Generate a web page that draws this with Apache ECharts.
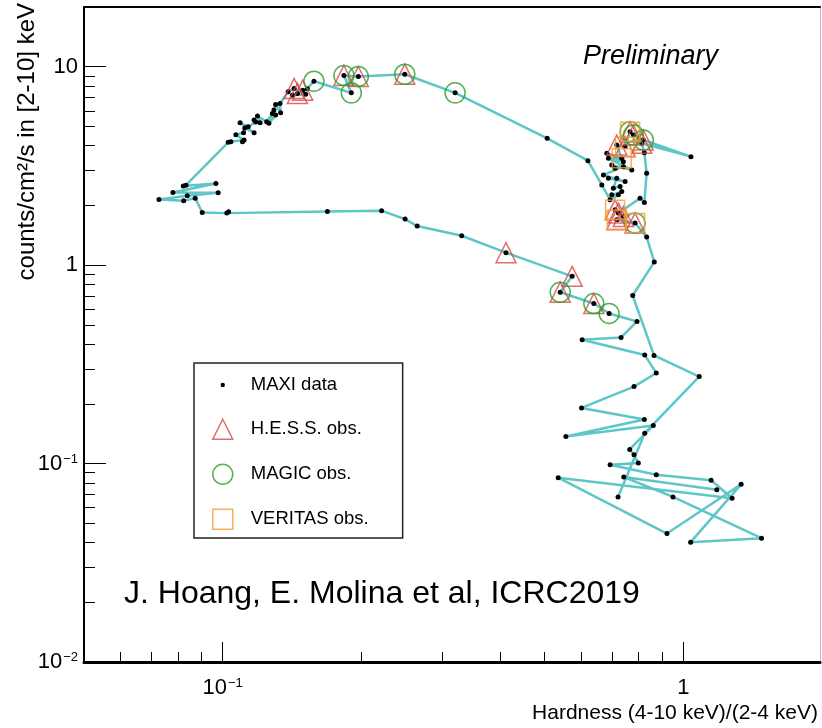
<!DOCTYPE html>
<html>
<head>
<meta charset="utf-8">
<title>MAXI hardness-intensity diagram</title>
<script src="https://cdn.jsdelivr.net/npm/echarts@6/dist/echarts.min.js"></script>
<style>
  html, body { margin: 0; padding: 0; background: #fff; }
  #chart { width: 822px; height: 728px; }
</style>
</head>
<body>
<div id="chart"></div>
<script>
// MAXI light curve in the hardness-intensity plane, in time order
const maxiHardness = [
  0.7216, 0.8245, 1.0825, 0.8636, 0.7765, 0.8648, 0.8325, 0.7856, 0.7170, 0.7411,
  0.7109, 0.7228, 0.8053, 0.8229, 0.8325, 0.8229, 0.8122, 1.0387, 0.8187, 0.7792,
  0.7663, 0.7474, 0.7170, 0.7351, 0.6822, 0.7411, 0.6877, 0.7729, 0.6993, 0.7109,
  0.7411, 0.6707, 0.7474, 0.6877, 0.7170, 0.7048, 0.7290, 0.7351, 0.6993, 0.7228,
  0.6934, 0.6653, 0.6206, 0.5064, 0.3196, 0.2485, 0.1970, 0.1833, 0.1902, 0.1578,
  0.1527, 0.1453, 0.1492, 0.1417, 0.1514, 0.1429, 0.1387, 0.1332, 0.1336, 0.1303,
  0.1292, 0.1303, 0.1260, 0.1282, 0.1246, 0.1190, 0.1206, 0.1170, 0.1180, 0.1136,
  0.1091, 0.1170, 0.1117, 0.1110, 0.1068, 0.1113, 0.1104, 0.1042, 0.1028, 0.08324,
  0.08212, 0.09667, 0.07799, 0.09777, 0.08378, 0.07274, 0.08229, 0.08718, 0.09028, 0.1021,
  0.1030, 0.1688, 0.2213, 0.2489, 0.2644, 0.3303, 0.4121, 0.5737, 0.5404, 0.6393,
  0.6901, 0.7933, 0.7325, 0.6031, 0.8245, 0.8735, 0.7816, 0.6011, 0.8229, 0.5559,
  0.8605, 0.7648, 0.7816, 0.7985, 0.6934, 0.8735, 1.149, 1.276, 0.5350, 0.9214,
  1.335, 1.037, 1.478, 0.9495, 0.7426, 1.182
];
const maxiRate = [
  0.0679, 0.1423, 0.2743, 0.3509, 0.7028, 1.038, 1.386, 1.630, 1.693, 1.759,
  1.901, 1.829, 2.176, 2.068, 2.906, 3.688, 4.113, 3.522, 4.272, 4.527,
  4.704, 3.954, 4.032, 3.457, 3.663, 3.324, 3.457, 3.019, 3.199, 3.079,
  3.137, 2.850, 2.637, 2.743, 2.743, 2.443, 2.489, 2.349, 2.261, 2.261,
  2.134, 2.538, 3.363, 4.357, 7.385, 9.169, 8.929, 9.032, 7.385, 8.456,
  7.753, 7.334, 7.619, 7.192, 7.275, 7.772, 7.472, 6.533, 5.860, 6.457,
  6.046, 5.705, 5.183, 5.820, 5.280, 5.639, 5.219, 5.385, 5.261, 4.984,
  5.219, 4.650, 4.909, 4.650, 4.544, 4.272, 4.189, 4.189, 4.160, 2.529,
  2.508, 2.577, 2.322, 2.314, 2.235, 2.141, 2.109, 2.176, 1.842, 1.829,
  1.857, 1.864, 1.879, 1.707, 1.574, 1.407, 1.156, 0.8784, 0.7302, 0.6406,
  0.5706, 0.5201, 0.4322, 0.4208, 0.3522, 0.2860, 0.2443, 0.1907, 0.1668, 0.1370,
  0.1556, 0.1179, 0.1107, 0.1006, 0.09863, 0.08785, 0.08234, 0.06686, 0.08485, 0.04438,
  0.07861, 0.04018, 0.04209, 0.06788, 0.08555, 0.07384
];

// Nights with IACT observations
const hessHardness = [0.1453, 0.1429, 0.1492, 0.1833, 0.1970, 0.2485, 0.4121, 0.5737, 0.5404, 0.6393,
  0.7663, 0.7474, 0.7170, 0.8122, 0.8187, 0.7792, 0.7109, 0.7228, 0.7411, 0.7170, 0.7856];
const hessRate = [7.334, 7.772, 7.619, 9.032, 8.929, 9.169, 1.156, 0.8784, 0.7302, 0.6406,
  4.704, 3.954, 4.032, 4.113, 4.272, 4.527, 1.901, 1.829, 1.759, 1.693, 1.630];

const magicHardness = [0.1578, 0.1833, 0.1970, 0.1902, 0.2485, 0.3196, 0.5404, 0.6393, 0.6901,
  0.7856, 0.7663, 0.7792, 0.8187];
const magicRate = [8.456, 9.032, 8.929, 7.385, 9.169, 7.385, 0.7302, 0.6406, 0.5706,
  1.630, 4.704, 4.527, 4.272];

const veritasHardness = [0.7663, 0.7474, 0.7351, 0.7109, 0.7170, 0.7856];
const veritasRate = [4.704, 3.954, 3.457, 1.901, 1.693, 1.630];

// Axis ticks and their labels
const xMajorTicks = [0.1, 1];
const xTickLabels = ['{b|10}{sup|−1}', '{b|1}'];
const xMinorTicks = [0.06, 0.07, 0.08, 0.09, 0.2, 0.3, 0.4, 0.5, 0.6, 0.7, 0.8, 0.9];
const yMajorTicks = [0.01, 0.1, 1, 10];
const yTickLabels = ['{b|10}{sup|−2}', '{b|10}{sup|−1}', '{b|1}', '{b|10}'];
const yMinorTicks = [0.02, 0.03, 0.04, 0.05, 0.06, 0.07, 0.08, 0.09,
  0.2, 0.3, 0.4, 0.5, 0.6, 0.7, 0.8, 0.9, 2, 3, 4, 5, 6, 7, 8, 9];

const FONT = '"Liberation Sans", Arial, sans-serif';
const LINE_COLOR = '#5ec6c6';
const HESS_COLOR = '#d84848';
const MAGIC_COLOR = '#2c9c2c';
const VERITAS_COLOR = '#f59a35';

function pairs(xs, ys) {
  return xs.map((x, i) => [x, ys[i]]);
}

function labelFor(ticks, labels) {
  return function (value) {
    for (let i = 0; i < ticks.length; i++) {
      if (Math.abs(Math.log10(ticks[i]) - Math.log10(value)) < 1e-6) return labels[i];
    }
    return '';
  };
}

const tickRich = {
  b: { fontSize: 22, lineHeight: 22, fontFamily: FONT, color: '#000' },
  sup: { fontSize: 13, lineHeight: 13, verticalAlign: 'top', fontFamily: FONT, color: '#000', padding: [0, 0, 0, 1] }
};

const X_MIN = 0.05, X_MAX = 1.98, Y_MIN = 0.01, Y_MAX = 20;

const option = {
  animation: false,
  backgroundColor: '#fff',
  textStyle: { fontFamily: FONT },
  grid: { left: 84, right: 2, top: 7, bottom: 66, containLabel: false, outerBoundsMode: 'none' },
  xAxis: [
    {
      type: 'log', logBase: 10, min: X_MIN, max: X_MAX, position: 'bottom',
      axisLine: { show: true, onZero: false, lineStyle: { color: '#000', width: 3 } },
      axisTick: { show: true, inside: true, length: 20, customValues: xMajorTicks, lineStyle: { color: '#000', width: 1 } },
      axisLabel: { show: true, customValues: xMajorTicks, formatter: labelFor(xMajorTicks, xTickLabels), margin: 15, rich: tickRich },
      splitLine: { show: false }, minorTick: { show: false }
    },
    {
      type: 'log', logBase: 10, min: X_MIN, max: X_MAX, position: 'bottom',
      axisLine: { show: false },
      axisTick: { show: true, inside: true, length: 10, customValues: xMinorTicks, lineStyle: { color: '#000', width: 1 } },
      axisLabel: { show: false }, splitLine: { show: false }
    },
    {
      type: 'log', logBase: 10, min: X_MIN, max: X_MAX, position: 'top',
      axisLine: { show: true, onZero: false, lineStyle: { color: '#000', width: 2 } },
      axisTick: { show: false }, axisLabel: { show: false }, splitLine: { show: false }
    }
  ],
  yAxis: [
    {
      type: 'log', logBase: 10, min: Y_MIN, max: Y_MAX, position: 'left',
      axisLine: { show: true, onZero: false, lineStyle: { color: '#000', width: 2 } },
      axisTick: { show: true, inside: true, length: 22, customValues: yMajorTicks, lineStyle: { color: '#000', width: 1 } },
      axisLabel: { show: true, customValues: yMajorTicks, formatter: labelFor(yMajorTicks, yTickLabels), margin: 6, rich: tickRich },
      splitLine: { show: false }
    },
    {
      type: 'log', logBase: 10, min: Y_MIN, max: Y_MAX, position: 'left',
      axisLine: { show: false },
      axisTick: { show: true, inside: true, length: 11, customValues: yMinorTicks, lineStyle: { color: '#000', width: 1 } },
      axisLabel: { show: false }, splitLine: { show: false }
    },
    {
      type: 'log', logBase: 10, min: Y_MIN, max: Y_MAX, position: 'right',
      axisLine: { show: true, onZero: false, lineStyle: { color: '#bdbdbd', width: 1 } },
      axisTick: { show: false }, axisLabel: { show: false }, splitLine: { show: false }
    }
  ],
  legend: {
    orient: 'vertical', left: 194, top: 363,
    padding: [12, 34, 8, 18],
    itemWidth: 20, itemHeight: 20, itemGap: 23.5,
    borderColor: '#222', borderWidth: 1.5, backgroundColor: '#fff',
    selectedMode: false,
    textStyle: { fontSize: 18.5, lineHeight: 20, color: '#000', fontFamily: FONT, padding: [0, 0, 0, 13] },
    data: [
      { name: 'MAXI data', icon: 'path://M0 0M20 20M7.8 10a2.2 2.2 0 1 0 4.4 0a2.2 2.2 0 1 0 -4.4 0Z',
        itemStyle: { color: '#000', borderWidth: 0 } },
      { name: 'H.E.S.S. obs.', icon: 'triangle',
        itemStyle: { color: 'rgba(0,0,0,0)', borderColor: HESS_COLOR, borderWidth: 1.5 } },
      { name: 'MAGIC obs.', icon: 'circle',
        itemStyle: { color: 'rgba(0,0,0,0)', borderColor: MAGIC_COLOR, borderWidth: 1.5 } },
      { name: 'VERITAS obs.', icon: 'rect',
        itemStyle: { color: 'rgba(0,0,0,0)', borderColor: VERITAS_COLOR, borderWidth: 1.5 } }
    ]
  },
  graphic: [
    {
      type: 'text', x: 27, y: 3, rotation: Math.PI / 2, silent: true,
      style: { text: 'counts/cm²/s in [2-10] keV', font: '24px ' + FONT, fill: '#000', align: 'right', verticalAlign: 'middle' }
    },
    {
      type: 'text', x: 818, y: 713, silent: true,
      style: { text: 'Hardness (4-10 keV)/(2-4 keV)', font: '21px ' + FONT, fill: '#000', align: 'right', verticalAlign: 'middle' }
    },
    {
      type: 'text', x: 583, y: 56, silent: true,
      style: { text: 'Preliminary', font: 'italic 27px ' + FONT, fill: '#000', align: 'left', verticalAlign: 'middle' }
    },
    {
      type: 'text', x: 124, y: 594, silent: true,
      style: { text: 'J. Hoang, E. Molina et al, ICRC2019', font: '32px ' + FONT, fill: '#000', align: 'left', verticalAlign: 'middle' }
    }
  ],
  series: [
    {
      name: 'MAXI data', type: 'line', data: pairs(maxiHardness, maxiRate),
      symbol: 'circle', symbolSize: 5, showSymbol: true, showAllSymbol: true,
      itemStyle: { color: '#000' },
      lineStyle: { color: LINE_COLOR, width: 2.5 },
      silent: true, z: 2
    },
    {
      name: 'H.E.S.S. obs.', type: 'scatter', data: pairs(hessHardness, hessRate),
      symbol: 'triangle', symbolSize: 20,
      itemStyle: { color: 'rgba(0,0,0,0)', borderColor: HESS_COLOR, borderWidth: 1.5 },
      silent: true, z: 3
    },
    {
      name: 'MAGIC obs.', type: 'scatter', data: pairs(magicHardness, magicRate),
      symbol: 'circle', symbolSize: 20,
      itemStyle: { color: 'rgba(0,0,0,0)', borderColor: MAGIC_COLOR, borderWidth: 1.5 },
      silent: true, z: 3
    },
    {
      name: 'VERITAS obs.', type: 'scatter', data: pairs(veritasHardness, veritasRate),
      symbol: 'rect', symbolSize: 19,
      itemStyle: { color: 'rgba(0,0,0,0)', borderColor: VERITAS_COLOR, borderWidth: 1.5 },
      silent: true, z: 3
    }
  ]
};

const chart = echarts.init(document.getElementById('chart'), null, { renderer: 'canvas' });
chart.setOption(option);
</script>
</body>
</html>
